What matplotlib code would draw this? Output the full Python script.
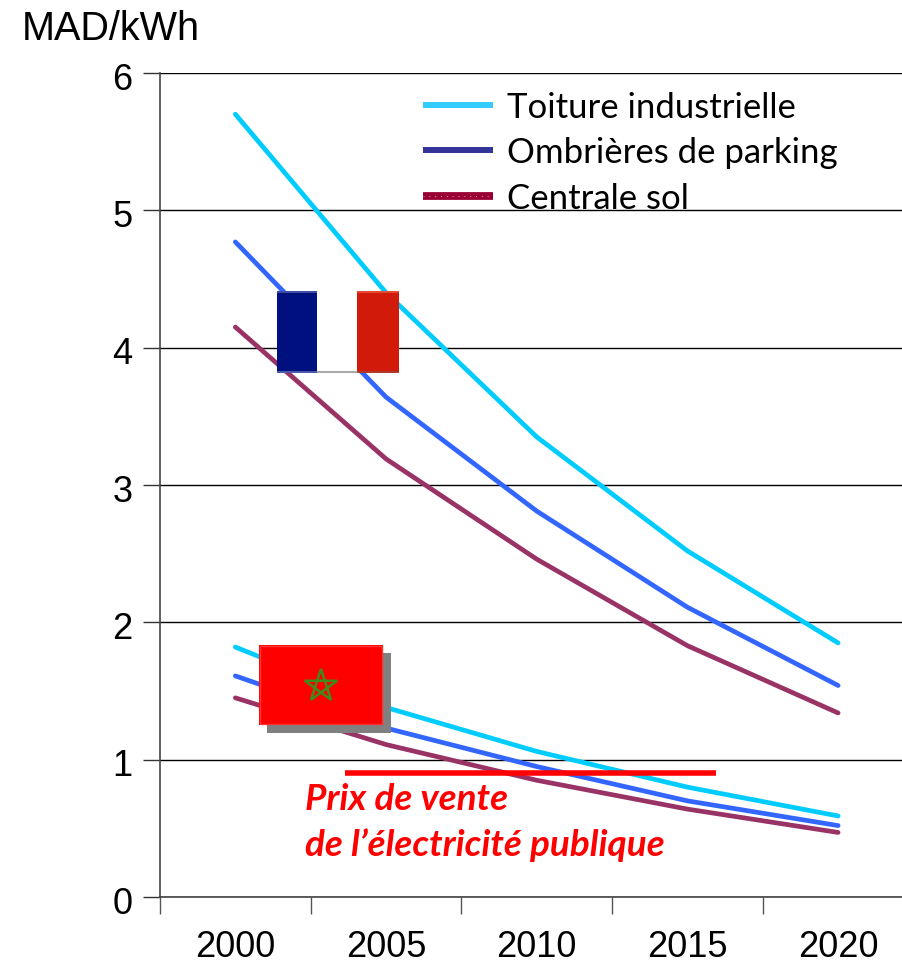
import matplotlib
matplotlib.use('Agg')
import matplotlib.pyplot as plt
from matplotlib.patches import Rectangle, Polygon
from matplotlib.transforms import ScaledTranslation
import numpy as np

years = ['2000', '2005', '2010', '2015', '2020']
y_ticks = [0, 1, 2, 3, 4, 5, 6]

# France
fr_toiture = [5.70, 4.40, 3.35, 2.52, 1.85]
fr_ombrieres = [4.77, 3.64, 2.81, 2.11, 1.54]
fr_sol = [4.15, 3.19, 2.46, 1.83, 1.34]

# Maroc
ma_toiture = [1.82, 1.38, 1.06, 0.80, 0.59]
ma_ombrieres = [1.61, 1.23, 0.95, 0.70, 0.52]
ma_sol = [1.45, 1.11, 0.85, 0.64, 0.47]

prix_public = 0.90
prix_start, prix_end = 0.725, 3.19

legend_labels = ['Toiture industrielle', 'Ombrières de parking', 'Centrale sol']
legend_colors = ['#33CCFF', '#333399', '#990033']

cyan = '#00CCFF'
blue = '#3366FF'
plum = '#993366'

W, H = 902, 964
fig = plt.figure(figsize=(W / 100, H / 100), dpi=100)
ax = fig.add_axes([160 / W, 1 - 897 / H, (902 - 160) / W, (897 - 73) / H])

x = np.arange(len(years))
for values, color in [(fr_toiture, cyan), (fr_ombrieres, blue), (fr_sol, plum),
                      (ma_toiture, cyan), (ma_ombrieres, blue), (ma_sol, plum)]:
    ax.plot(x, values, color=color, lw=3.4, solid_capstyle='round', zorder=3)

ax.plot([prix_start, prix_end], [prix_public, prix_public], color='#FF0000', lw=4,
        solid_capstyle='butt', zorder=6)

ax.set_xlim(-0.5, 4.424)
ax.set_ylim(0, 6)
ax.set_yticks(y_ticks)
ax.set_yticklabels([str(t) for t in y_ticks], fontsize=26, family='Liberation Sans')
ax.set_xticks(x - 0.5)
ax.set_xticklabels([])
ax.tick_params(axis='y', length=12, width=1, color='#333333', pad=8)
ax.tick_params(axis='x', length=12, width=1, color='#555555')
ax.grid(axis='y', color='black', lw=1)
ax.set_axisbelow(True)
for side in ['top', 'right']:
    ax.spines[side].set_visible(False)
for side in ['left', 'bottom']:
    ax.spines[side].set_color('#444444')
    ax.spines[side].set_linewidth(1.2)

# the chart's y labels sit a little under their gridlines
shift = ScaledTranslation(0, -3 / 100, fig.dpi_scale_trans)
for label in ax.get_yticklabels():
    label.set_transform(label.get_transform() + shift)

# year labels sit under the points
for xi, year in zip(x, years):
    ax.text(xi, -0.365, year, ha='center', va='center', fontsize=26, family='Liberation Sans')

# overlay in pixel coordinates for the legend, flags and notes
over = fig.add_axes([0, 0, 1, 1], zorder=10)
over.set_xlim(0, W)
over.set_ylim(H, 0)
over.axis('off')

over.text(22, 29, 'MAD/kWh', fontsize=28.5, family='Liberation Sans', va='center', ha='left')

for ypos, label, color, lw in zip([105, 150, 196], legend_labels, legend_colors, [4.3, 4.3, 5.6]):
    over.plot([423, 493], [ypos, ypos], color=color, lw=lw, solid_capstyle='butt')
    over.text(507, ypos + 3, label, fontsize=25, family='Lato', va='center', ha='left')
over.plot([423, 493], [196, 196], color='#D99AB0', lw=0.7, ls=(0, (1, 5)))

over.text(305, 800, 'Prix de vente', fontsize=26.6, family='Lato', style='italic',
          weight='bold', color='#FF0000', va='center', ha='left')
over.text(305, 845, 'de l’électricité publique', fontsize=26.6, family='Lato', style='italic',
          weight='bold', color='#FF0000', va='center', ha='left')

# drapeau francais
over.add_patch(Rectangle((277, 291), 41, 82, color='#00107F', lw=0))
over.add_patch(Rectangle((317, 291), 41, 82, color='#FFFFFF', lw=0))
over.add_patch(Rectangle((357, 291), 42, 82, color='#D11A0A', lw=0))
over.plot([277, 317], [291.5, 291.5], color='#4A5AAE', lw=1.2, solid_capstyle='butt')
over.plot([357, 399], [291.5, 291.5], color='#E8563F', lw=1.2, solid_capstyle='butt')
over.plot([277, 317], [372, 372], color='#5A68B5', lw=1.2, solid_capstyle='butt')
over.plot([317, 358], [372, 372], color='#AAAAAA', lw=1.5, solid_capstyle='butt')
over.plot([357, 399], [372, 372], color='#A8442F', lw=1.2, solid_capstyle='butt')

# drapeau marocain
over.add_patch(Rectangle((267, 653), 124, 80, color='#808080', lw=0))
over.add_patch(Rectangle((259, 645), 124, 80, color='#FF0000', lw=0))
over.add_patch(Rectangle((260, 646), 122, 78, fill=False, edgecolor='#FF3333', lw=1))
angles = np.deg2rad(90 + 144 * np.arange(5))
star = np.column_stack([321 + 17 * np.cos(angles), 686 - 17 * np.sin(angles)])
over.add_patch(Polygon(star, closed=True, fill=False, edgecolor='#3F8A1A', lw=1.8))

fig.savefig('out.png', dpi=100)
